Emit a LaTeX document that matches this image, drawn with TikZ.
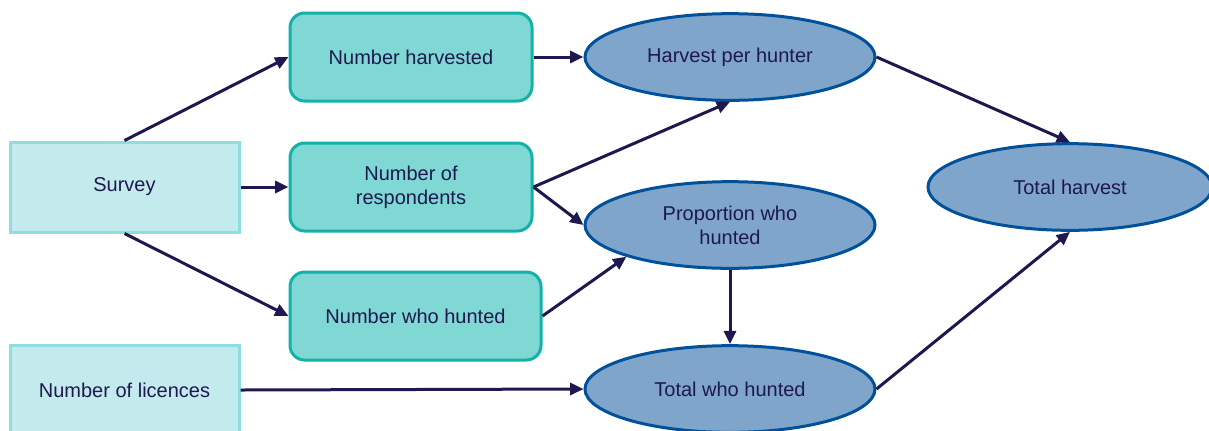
\documentclass[tikz,border=0pt]{standalone}
\usepackage{fontspec}
\setmainfont{Liberation Sans}
\usetikzlibrary{arrows.meta,shapes.geometric}
\definecolor{inkblue}{HTML}{1E1850}
\definecolor{srcfill}{HTML}{C3EBED}
\definecolor{srcline}{HTML}{8EDDE0}
\definecolor{cntfill}{HTML}{80D8D4}
\definecolor{cntline}{HTML}{14B1A8}
\definecolor{estfill}{HTML}{7FA5CB}
\definecolor{estline}{HTML}{00509A}
\tikzset{
  source/.style={draw=srcline, fill=srcfill, line width=2.25pt, minimum width=171.75pt, minimum height=67.5pt, inner sep=0pt},
  count/.style={draw=cntline, fill=cntfill, line width=2.25pt, rounded corners=11pt, minimum height=66pt, inner sep=0pt, align=center},
  estimate/.style={ellipse, draw=estline, fill=estfill, line width=2.25pt, minimum width=217.5pt, minimum height=65pt, inner sep=0pt, align=center},
  flow/.style={draw=inkblue, line width=2.25pt, -{Triangle[length=10pt,width=9pt]}}
}
\begin{document}
\begin{tikzpicture}[x=0.75pt,y=0.75pt,yscale=-1, every node/.style={text=inkblue, font=\fontsize{15}{18}\selectfont}]
\useasboundingbox (0,0) rectangle (1209,430);

%Shape: Rectangle (data sources)
\node [source] (survey) at (124.5,187) {Survey};
\node [source] (licences) at (124.5,390) {Number of licences};

%Shape: Rounded rectangle (counts)
\node [count, minimum width=181.5pt] (harvested) at (411,57) {Number harvested};
\node [count, minimum width=181.5pt] (respondents) at (411,187) {Number of\\respondents};
\node [count, minimum width=188.25pt] (hunted) at (415.5,316) {Number who hunted};

%Shape: Ellipse (estimates)
\node [estimate] (perhunter) at (730,57) {Harvest per hunter};
\node [estimate] (proportion) at (730,225) {Proportion who\\hunted};
\node [estimate] (totalhunted) at (730,389) {Total who hunted};
\node [estimate, minimum width=213pt] (totalharvest) at (1070,187) {Total harvest};

%Straight Lines
\draw [flow] (survey.north) -- (harvested.west);
\draw [flow] (survey.east) -- (respondents.west);
\draw [flow] (survey.south) -- (hunted.west);
\draw [flow] (harvested.east) -- (perhunter.west);
\draw [flow] (respondents.east) -- (perhunter.south);
\draw [flow] (respondents.east) -- (proportion.west);
\draw [flow] (hunted.east) -- (proportion.south west);
\draw [flow] (proportion.south) -- (totalhunted.north);
\draw [flow] (licences.east) -- (totalhunted.west);
\draw [flow] (perhunter.east) -- (totalharvest.north);
\draw [flow] (totalhunted.east) -- (totalharvest.south);

\end{tikzpicture}
\end{document}
